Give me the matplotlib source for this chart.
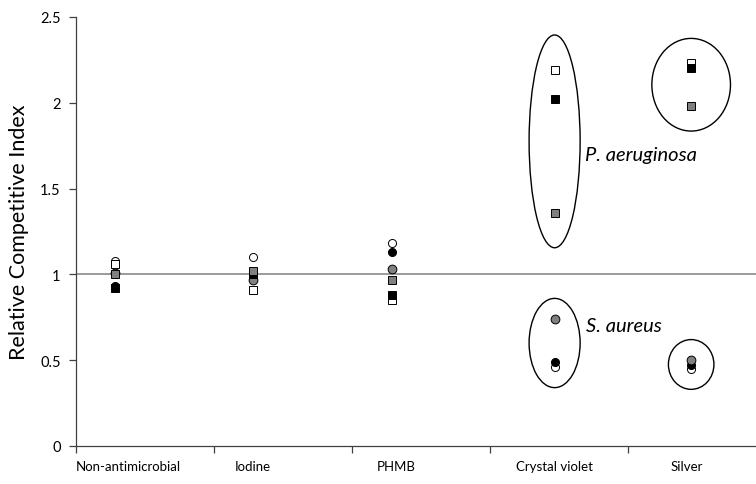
import numpy as np
import matplotlib.pyplot as plt
from matplotlib.patches import Ellipse
from matplotlib.transforms import blended_transform_factory

# treatment groups and where they sit on the x axis
treatments = ['Non-antimicrobial', 'Iodine', 'PHMB', 'Crystal violet', 'Silver']
x_pos = [0.28, 1.28, 2.29, 3.47, 4.46]
label_pos = [0.38, 1.28, 2.32, 3.47, 4.43]

# relative competitive index, one value per strain/replicate
# squares = P. aeruginosa, circles = S. aureus
sq_white = [1.06, 0.91, 0.85, 2.19, 2.23]
sq_black = [0.92, 1.00, 0.88, 2.02, 2.20]
sq_grey = [1.00, 1.02, 0.97, 1.36, 1.98]
ci_white = [1.08, 1.10, 1.18, 0.46, 0.45]
ci_black = [0.93, 0.98, 1.13, 0.49, 0.47]
ci_grey = [1.01, 0.97, 1.03, 0.74, 0.50]

plt.rcParams['font.family'] = ['Lato', 'DejaVu Sans']

fig = plt.figure(figsize=(7.56, 4.85), dpi=100)
ax = fig.add_axes([0.1005, 0.0784, 0.8995, 0.8846])

grey = '#808080'

# reference line at RCI = 1
ax.axhline(1, color=grey, lw=1.1, zorder=1)

def series(vals, marker, face, size):
    ax.plot(x_pos, vals, ls='none', marker=marker, ms=size, mfc=face,
            mec='black', mew=0.7, zorder=3)

series(ci_white, 'o', 'white', 5.8)
series(ci_black, 'o', 'black', 5.8)
series(ci_grey, 'o', grey, 6.3)
series(sq_white, 's', 'white', 6.3)
series(sq_black, 's', 'black', 6.3)
series(sq_grey, 's', grey, 6.3)

# circle the separated groups for crystal violet and silver
groups = [
    (3, [sq_white, sq_black, sq_grey], 0.37, 0.41),
    (4, [sq_white, sq_black, sq_grey], 0.57, 0.29),
    (3, [ci_white, ci_black, ci_grey], 0.37, 0.24),
    (4, [ci_white, ci_black, ci_grey], 0.33, 0.24),
]
for i, sets, w, pad in groups:
    vals = [s[i] for s in sets]
    lo, hi = min(vals), max(vals)
    ax.add_patch(Ellipse((x_pos[i], (lo + hi) / 2), w, hi - lo + pad,
                         fill=False, ec='black', lw=1.0, zorder=2))

ax.text(3.69, 1.70, 'P. aeruginosa', style='italic', fontsize=14.5, va='center')
ax.text(3.70, 0.70, 'S. aureus', style='italic', fontsize=14.5, va='center')

ax.set_xlim(0, 4.93)
ax.set_ylim(0, 2.5)
ax.set_yticks(np.arange(0, 2.51, 0.5))
ax.set_yticklabels(['0', '0.5', '1', '1.5', '2', '2.5'])
ax.set_xticks(range(5))
ax.set_xticklabels([])
ax.tick_params(axis='both', direction='out', length=5, width=0.9,
               color='#404040', labelsize=10.5)
ax.tick_params(axis='y', pad=6)

trans = blended_transform_factory(ax.transData, ax.transAxes)
for lx, name in zip(label_pos, treatments):
    ax.text(lx, -0.032, name, transform=trans, ha='center', va='top', fontsize=9.5)

ax.set_ylabel('Relative Competitive Index', fontsize=15.5, labelpad=8)

for side in ['top', 'right']:
    ax.spines[side].set_visible(False)
for side in ['left', 'bottom']:
    ax.spines[side].set_color('#404040')
    ax.spines[side].set_linewidth(0.9)

fig.savefig('out.png', dpi=100)
plt.close()
